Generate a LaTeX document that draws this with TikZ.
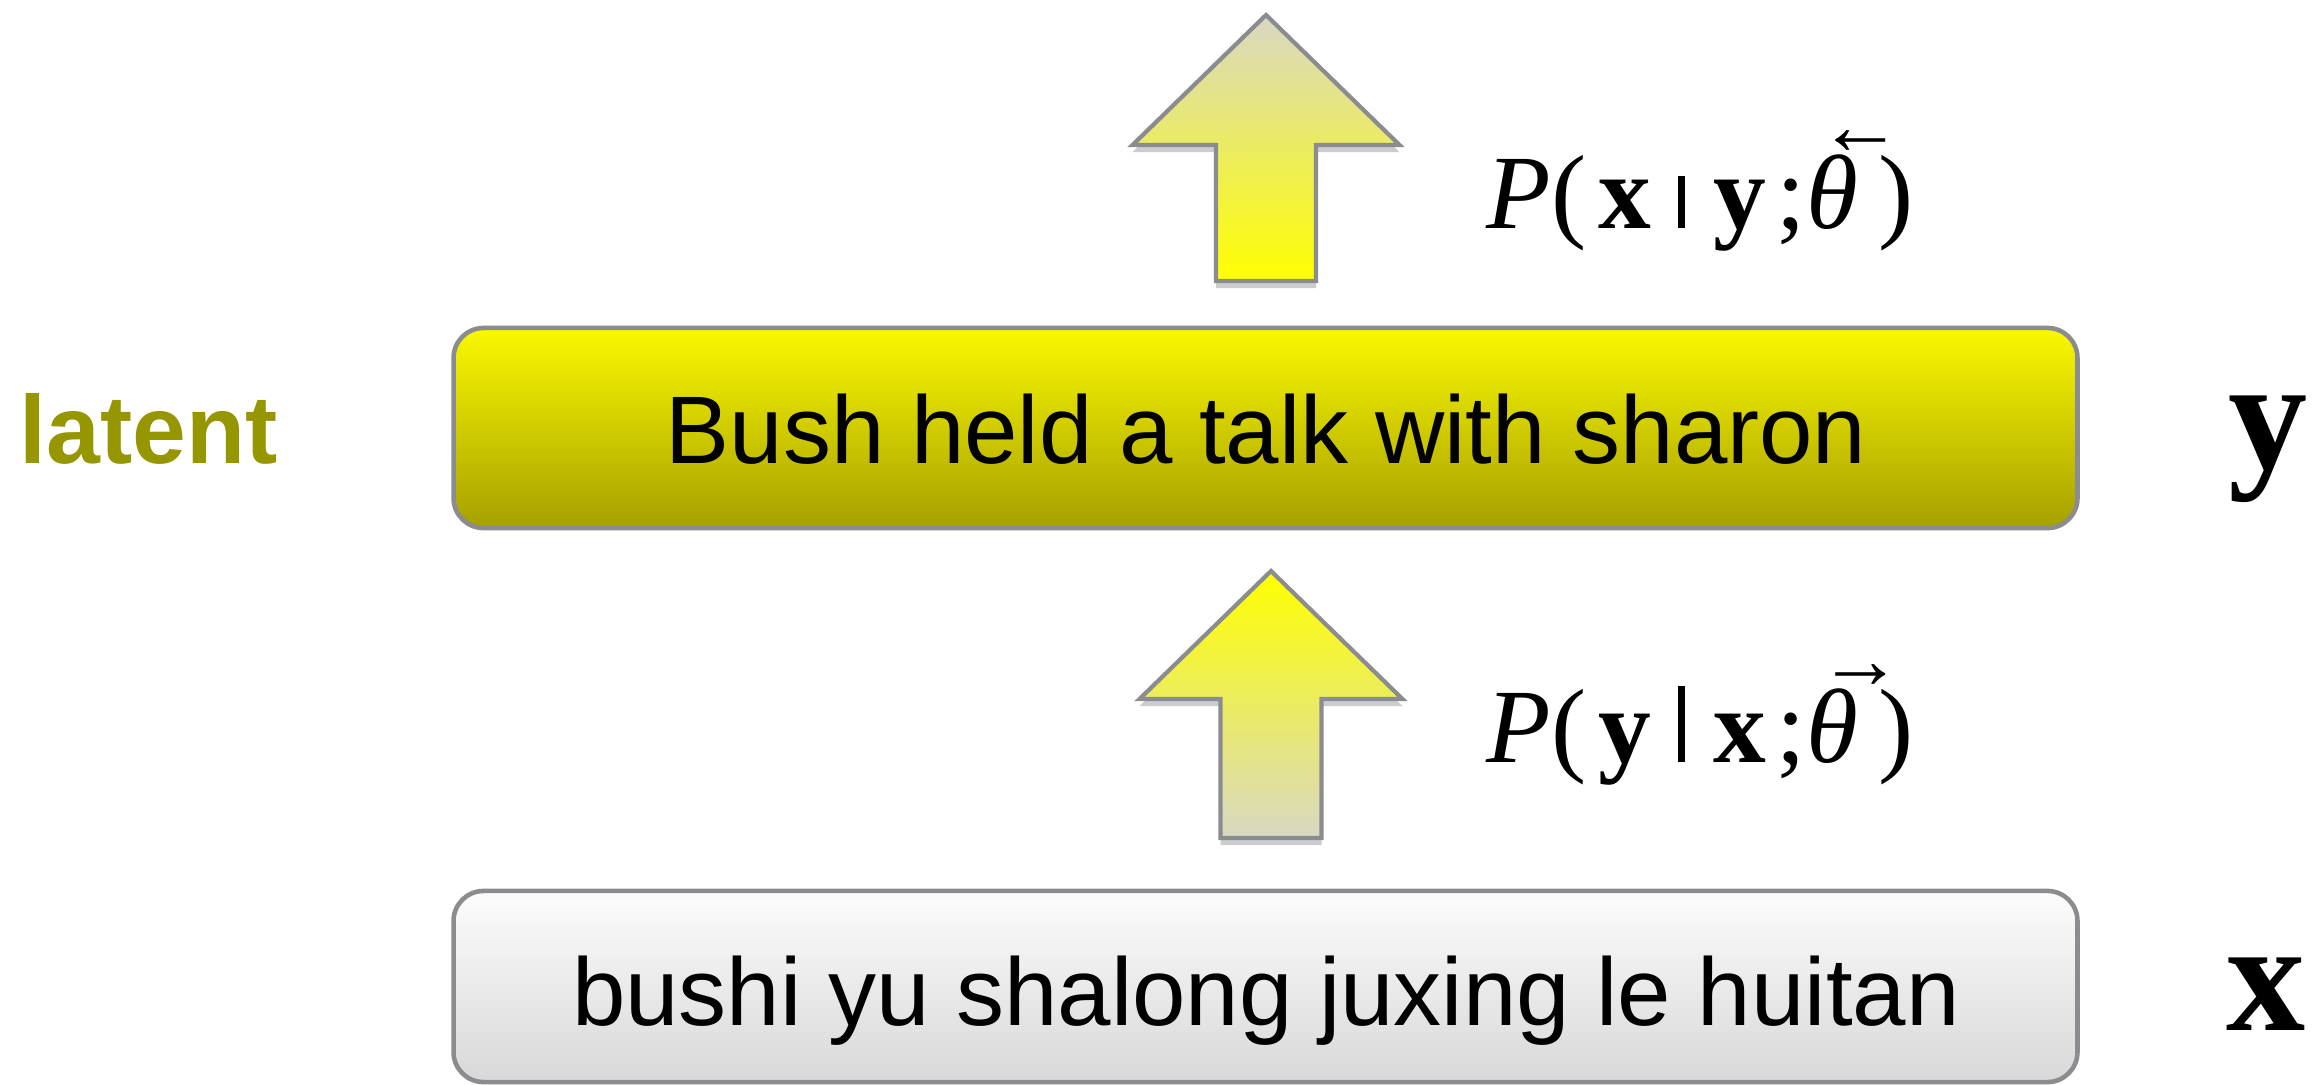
\documentclass[tikz,border=0pt]{standalone}
\usepackage{fontspec}
\setmainfont{Liberation Serif}
\setsansfont{Liberation Sans}
\usetikzlibrary{shadows}

\definecolor{edgegray}{RGB}{138,140,144}
\definecolor{ytop}{RGB}{250,248,0}
\definecolor{ybot}{RGB}{166,160,0}
\definecolor{wtop}{RGB}{252,252,252}
\definecolor{wbot}{RGB}{216,216,216}
\definecolor{arrowgray}{RGB}{216,216,196}
\definecolor{arrowyellow}{RGB}{255,255,0}
\definecolor{olive}{RGB}{150,150,0}

% short arrow set above the following letter
\newcommand{\accarrow}[1]{\makebox[0pt][l]{\raisebox{21pt}{\kern3.5pt{\fontsize{24}{24}\selectfont\bfseries #1}}}}
% conditioning bar of a given height
\newcommand{\condbar}[1]{\hspace{0.25em}\rule{0.065em}{#1}\hspace{0.27em}}

\tikzset{
  sentbox/.style={draw=edgegray, line width=1.3pt, rounded corners=0.3cm,
    minimum width=16.23cm, inner sep=0pt},
  sent/.style={anchor=base, inner sep=0pt, font=\sffamily\fontsize{27.3}{33}\selectfont},
  blockarrow/.style={draw=edgegray, line width=1.2pt, line join=miter,
    drop shadow={shadow xshift=0pt, shadow yshift=-2pt, opacity=0.2, fill=black}},
  problabel/.style={anchor=base west, inner sep=0pt, font=\fontsize{30}{36}\selectfont},
  varlabel/.style={anchor=base, inner sep=0pt, font=\bfseries\fontsize{45}{54}\selectfont},
}

\begin{document}
\begin{tikzpicture}[x=0.01cm, y=-0.01cm]
\useasboundingbox (0,0) rectangle (2321,1084);

% sentence boxes
\node[sentbox, minimum height=2.0cm, top color=ytop, bottom color=ybot]
  (latentbox) at (1265.5,428) {};
\node[sentbox, minimum height=1.91cm, top color=wtop, bottom color=wbot]
  (sourcebox) at (1265.5,986.5) {};

\node[sent] (latentsent) at (1266,463) {Bush held a talk with sharon};
\node[sent] (sourcesent) at (1266,1025) {bushi yu shalong juxing le huitan};

% side labels
\node[anchor=base west, inner sep=0pt, text=olive,
  font=\sffamily\bfseries\fontsize{27.5}{33}\selectfont]
  (latentword) at (19,463) {latent};
\node[varlabel] (yvar) at (2268,468) {y};
\node[varlabel] (xvar) at (2266,1030) {x};

% block arrows
\coordinate (uptip) at (1266,15);
\coordinate (lowtip) at (1271,571);
\path[blockarrow, top color=arrowgray, bottom color=arrowyellow]
  (uptip) -- ++(133.5,130) -- ++(-83.5,0) -- ++(0,136) -- ++(-100,0)
  -- ++(0,-136) -- ++(-83.5,0) -- cycle;
\path[blockarrow, top color=arrowyellow, bottom color=arrowgray]
  (lowtip) -- ++(131.5,128) -- ++(-81,0) -- ++(0,139) -- ++(-101,0)
  -- ++(0,-139) -- ++(-81,0) -- cycle;

% model probabilities
\node[problabel] (backward) at (1486,228)
  {\textit{P}(\kern0.12em\textbf{x}\condbar{0.49em}\textbf{y}\kern0.1em;\accarrow{←}\textit{θ}\kern0.2em)};
\node[problabel] (forward) at (1486,762)
  {\textit{P}(\kern0.12em\textbf{y}\condbar{0.72em}\textbf{x}\kern0.1em;\accarrow{→}\textit{θ}\kern0.2em)};
\end{tikzpicture}
\end{document}
